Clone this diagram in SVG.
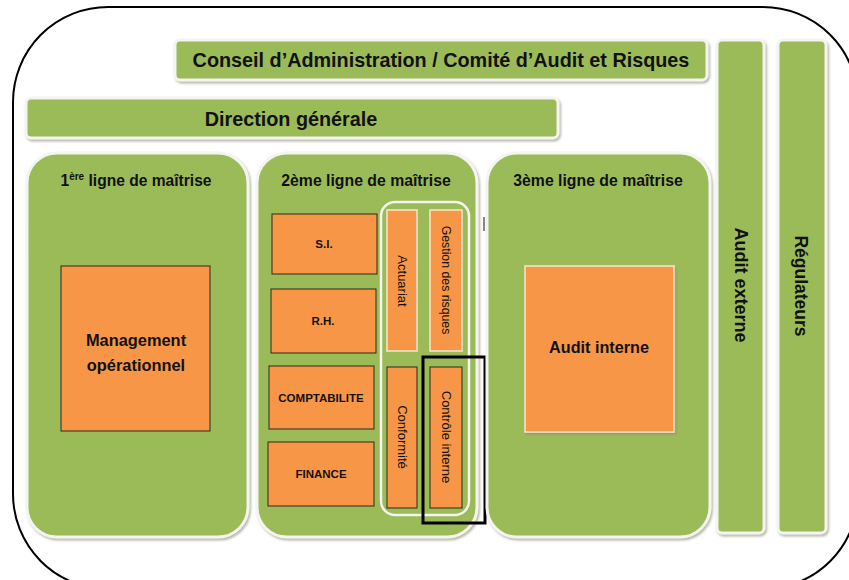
<svg xmlns="http://www.w3.org/2000/svg" width="849" height="580" viewBox="0 0 849 580">
<defs>
<filter id="sh" x="-10%" y="-10%" width="130%" height="130%">
<feDropShadow dx="1.5" dy="2" stdDeviation="1" flood-color="#8a8a7a" flood-opacity="0.6"/>
</filter>
</defs>
<style>
.g{fill:#9BBB59;stroke:#f4f4f0;stroke-width:3;filter:url(#sh)}
.o{fill:#F79646;stroke:#2a2a1a;stroke-width:1}
.ol{fill:#F79646;stroke:#fbe3cf;stroke-width:1.5}
.t{font-family:"Liberation Sans",Arial,sans-serif;font-weight:bold;fill:#111;text-anchor:middle}
.r{font-family:"Liberation Sans",Arial,sans-serif;fill:#111;text-anchor:middle}
</style>
<rect x="13" y="7" width="845" height="582" rx="95" ry="95" fill="none" stroke="#000" stroke-width="2"/>
<g id="conseil"><rect class="g" x="175" y="40" width="532" height="40" rx="5"/><text class="t" x="441" y="67" font-size="19.8">Conseil d’Administration / Comité d’Audit et Risques</text></g>
<g id="direction"><rect class="g" x="26" y="98" width="532" height="40" rx="5"/><text class="t" x="291" y="126" font-size="19.8">Direction générale</text></g>
<g id="audit-externe"><rect class="g" x="717" y="40" width="47" height="493" rx="5"/><text class="t" transform="translate(741,285) rotate(90)" font-size="18" y="6">Audit externe</text></g>
<g id="regulateurs"><rect class="g" x="778" y="40" width="48" height="493" rx="5"/><text class="t" transform="translate(801,286) rotate(90)" font-size="17.5" y="6">Régulateurs</text></g>
<g id="ligne1"><rect class="g" x="27" y="153" width="221" height="384" rx="30"/><text class="t" x="136" y="186" font-size="15.6">1<tspan font-size="10" dy="-6">ère</tspan><tspan dy="6"> ligne de maîtrise</tspan></text></g>
<g id="management"><rect class="o" x="61" y="266" width="149" height="165"/><text class="t" x="136" y="346" font-size="16.4">Management</text><text class="t" x="136" y="371" font-size="16.4">opérationnel</text></g>
<g id="ligne2"><rect class="g" x="257" y="153" width="220" height="384" rx="30"/><text class="t" x="366" y="186" font-size="15.8">2ème ligne de maîtrise</text></g>
<g id="si"><rect class="o" x="272" y="214" width="105" height="60"/><text class="t" x="324" y="248" font-size="11.5">S.I.</text></g>
<g id="rh"><rect class="o" x="271" y="289" width="105" height="64"/><text class="t" x="323" y="325" font-size="11.5">R.H.</text></g>
<g id="comptabilite"><rect class="o" x="269" y="366" width="105" height="63"/><text class="t" x="321" y="402" font-size="11.5">COMPTABILITE</text></g>
<g id="finance"><rect class="o" x="268" y="442" width="106" height="64"/><text class="t" x="321" y="478" font-size="11.5">FINANCE</text></g>
<g id="groupe-risques"><rect x="381" y="202" width="88" height="313" rx="14" fill="none" stroke="#f4f4f0" stroke-width="2.5"/></g>
<g id="actuariat"><rect class="ol" x="387" y="210" width="30" height="141"/><text class="r" transform="translate(402,281) rotate(90)" font-size="13" y="4.5">Actuariat</text></g>
<g id="gestion-risques"><rect class="ol" x="430" y="210" width="32" height="141"/><text class="r" transform="translate(446,280) rotate(90)" font-size="12.3" y="4.5">Gestion des risques</text></g>
<g id="conformite"><rect class="o" x="387" y="367" width="30" height="141"/><text class="r" transform="translate(402,437) rotate(90)" font-size="13" y="4.5">Conformité</text></g>
<g id="controle-interne"><rect class="o" x="430" y="367" width="32" height="141"/><text class="r" transform="translate(446,437) rotate(90)" font-size="13" y="4.5">Contrôle interne</text></g>
<g id="highlight"><rect x="423" y="357" width="62" height="166" fill="none" stroke="#000" stroke-width="3"/></g>
<rect x="483" y="217" width="2" height="14" fill="#888"/>
<g id="ligne3"><rect class="g" x="487" y="153" width="223" height="384" rx="30"/><text class="t" x="598" y="186" font-size="15.8">3ème ligne de maîtrise</text></g>
<g id="audit-interne"><rect class="ol" x="525" y="266" width="149" height="166" stroke="#fff4ea" filter="url(#sh)"/><text class="t" x="599" y="353" font-size="16.2">Audit interne</text></g>
<g id="connectors"></g>
</svg>
